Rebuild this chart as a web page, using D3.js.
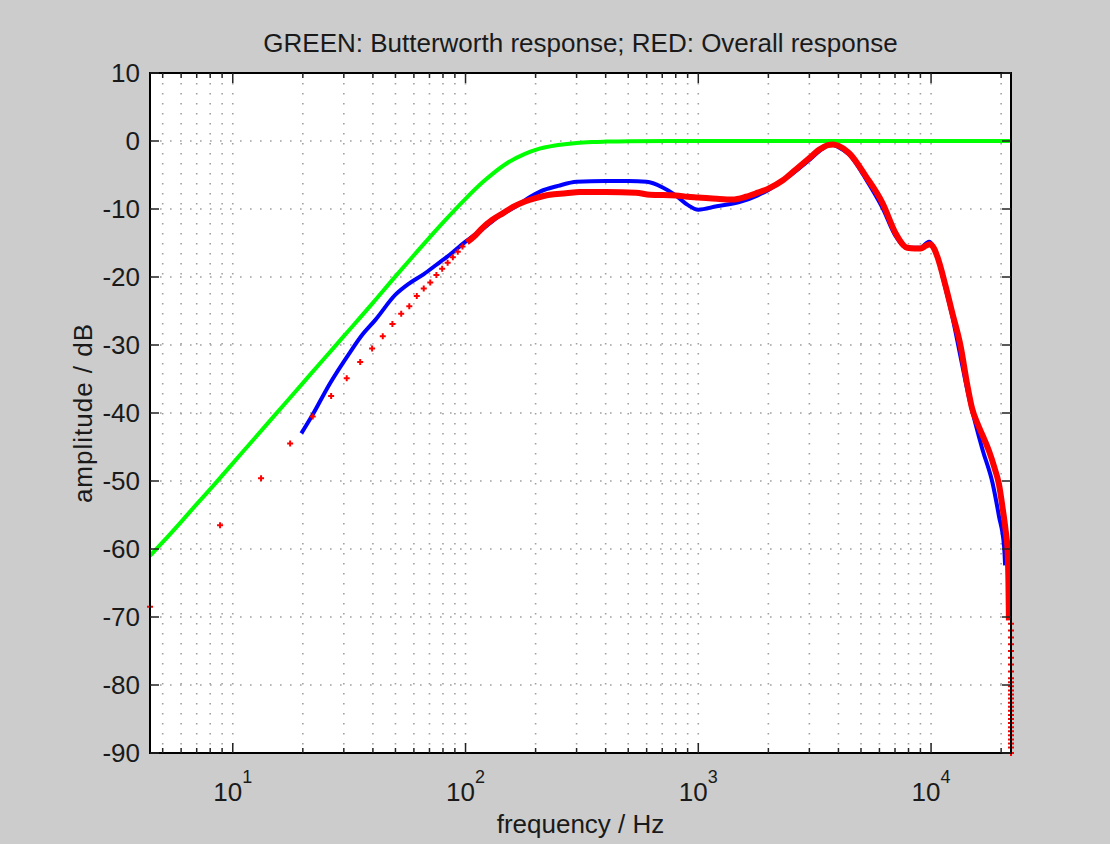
<!DOCTYPE html>
<html>
<head>
<meta charset="utf-8">
<script src="https://cdn.jsdelivr.net/npm/d3@7"></script>
<style>
body { margin: 0; background: #cccccc; }
svg { display: block; }
text { font-family: "Liberation Sans", Arial, sans-serif; fill: #1a1a1a; }
</style>
</head>
<body>
<div id="chart"></div>
<script>
var W = 1110, H = 844;
var plotL = 150, plotR = 1011, plotT = 73, plotB = 753;

// x limits (Hz) and y limits (dB)
var xLim = [4.41, 22050];
var yLim = [-90, 10];
var xTickExps = [1, 2, 3, 4];
var yTicks = [10, 0, -10, -20, -30, -40, -50, -60, -70, -80, -90];

// GREEN: Butterworth response
var greenF  = [4.41, 5, 6, 7, 8, 10, 12, 15, 20, 25, 30, 40, 50, 60, 70, 80, 100, 120, 150, 180, 200, 250, 300, 350, 400, 500, 1000, 22050];
var greenDb = [-61.0, -59.0, -56.0, -53.4, -51.2, -47.4, -44.3, -40.5, -35.6, -31.8, -28.7, -23.8, -19.9, -16.8, -14.2, -12.0, -8.5, -5.9, -3.3, -1.9, -1.3, -0.6, -0.28, -0.15, -0.09, -0.03, 0, 0];

// blue curve
var blueF  = [19.7, 22, 26, 32, 36, 41, 50, 57, 66, 75, 85, 100, 118, 140, 165, 190, 210, 250, 300, 400, 500, 600, 700, 800, 900, 1000, 1200, 1500, 1800, 2000, 2500, 3000, 3400, 3700, 4000, 4450, 5250, 6200, 7050, 7900, 9000, 9800, 10640, 11560, 12340, 13400, 14500, 15500, 16640, 18370, 19580, 20600, 20800];
var blueDb = [-43.0, -40.3, -35.8, -31.0, -28.5, -26.3, -22.6, -21.0, -19.6, -18.2, -16.8, -14.8, -13.0, -11.0, -9.6, -8.2, -7.4, -6.6, -6.0, -5.9, -5.9, -6.0, -6.8, -8.0, -9.4, -10.1, -9.6, -9.0, -8.0, -7.2, -5.0, -2.8, -1.2, -0.5, -0.9, -2.0, -5.6, -9.9, -14.0, -15.7, -15.7, -14.8, -17.0, -21.8, -25.8, -31.8, -37.5, -41.5, -45.4, -50.3, -55.2, -59.7, -62.4];

// RED: Overall response, low-frequency bins drawn as markers
var redDotF  = [4.41, 8.82, 13.23, 17.64, 22.05, 26.46, 30.87, 35.28, 39.69, 44.1, 48.51, 52.92, 57.33, 61.74, 66.15, 70.56, 74.97, 79.38, 83.79, 88.2, 92.61, 97.02];
var redDotDb = [-68.5, -56.5, -49.6, -44.5, -40.5, -37.5, -34.9, -32.5, -30.5, -28.7, -26.9, -25.4, -24.3, -22.8, -21.7, -20.8, -19.7, -18.8, -17.9, -17.1, -16.3, -15.5];

// RED: dense part drawn as a thick line
var redF  = [101.4, 110, 118, 130, 145, 160, 180, 200, 230, 270, 310, 400, 540, 620, 800, 900, 1000, 1200, 1400, 1600, 1800, 2000, 2300, 2600, 3000, 3300, 3600, 3800, 4000, 4450, 5250, 6200, 7050, 7600, 7900, 8500, 9020, 9500, 9900, 10300, 10640, 11560, 12340, 13400, 14300, 15000, 15800, 16800, 17740, 18700, 19580, 20300, 20900, 21300, 21500, 21600];
var redDb = [-14.9, -13.9, -12.8, -11.6, -10.6, -9.7, -8.9, -8.4, -7.9, -7.7, -7.5, -7.5, -7.6, -7.9, -8.0, -8.2, -8.3, -8.5, -8.6, -8.2, -7.6, -7.0, -5.8, -4.3, -2.5, -1.3, -0.6, -0.5, -0.7, -1.8, -5.2, -9.2, -13.6, -15.3, -15.7, -15.8, -15.8, -15.4, -15.2, -15.8, -17.0, -21.4, -25.3, -30.2, -35.8, -39.3, -41.5, -43.6, -45.6, -48.0, -50.5, -54.0, -57.2, -60.0, -65.0, -70.5];

// RED: last bins at the Nyquist edge
var redTailF = 22050;
var redTailDb = [-71, -72, -73, -74, -75, -76, -77, -78, -79, -79.6, -80.2, -80.8, -81.4, -82, -82.6, -83.2, -83.8, -84.4, -85, -85.6, -86.2, -86.8, -87.4, -88, -88.6, -89.2, -90];

var x = d3.scaleLog().domain(xLim).range([plotL, plotR]);
var y = d3.scaleLinear().domain(yLim).range([plotB, plotT]);

var svg = d3.select("#chart").append("svg")
  .attr("width", W)
  .attr("height", H);

svg.append("rect").attr("width", W).attr("height", H).attr("fill", "#cccccc");
svg.append("rect")
  .attr("x", plotL).attr("y", plotT)
  .attr("width", plotR - plotL).attr("height", plotB - plotT)
  .attr("fill", "#ffffff");

// grid positions: every 1..9 x 10^d inside the limits
var xMinor = [];
for (var d = 0; d <= 4; d++) {
  for (var m = 1; m <= 9; m++) {
    var v = m * Math.pow(10, d);
    if (v > xLim[0] && v < xLim[1]) xMinor.push({v: v, major: m == 1});
  }
}

var grid = svg.append("g").attr("stroke", "#a0a0a0").attr("stroke-width", 1.6).attr("stroke-dasharray", "1.6,8.4");
grid.selectAll(".vg").data(xMinor).enter().append("line")
  .attr("x1", d => x(d.v)).attr("x2", d => x(d.v))
  .attr("y1", plotT).attr("y2", plotB);
grid.selectAll(".hg").data(yTicks.slice(1, -1)).enter().append("line")
  .attr("x1", plotL).attr("x2", plotR)
  .attr("y1", d => y(d)).attr("y2", d => y(d));

var line = d3.line()
  .x(d => x(d[0]))
  .y(d => y(d[1]))
  .curve(d3.curveMonotoneX);

svg.append("path")
  .datum(d3.zip(greenF, greenDb))
  .attr("d", line)
  .attr("fill", "none")
  .attr("stroke", "#00ff00")
  .attr("stroke-width", 4);

svg.append("path")
  .datum(d3.zip(blueF, blueDb))
  .attr("d", line)
  .attr("fill", "none")
  .attr("stroke", "#0000ff")
  .attr("stroke-width", 4);

svg.append("path")
  .datum(d3.zip(redF, redDb))
  .attr("d", line)
  .attr("fill", "none")
  .attr("stroke", "#ff0000")
  .attr("stroke-width", 6)
  .attr("stroke-linejoin", "round");

var plus = "M-3,0H3M0,-3V3";
svg.selectAll(".rdot").data(d3.zip(redDotF, redDotDb)).enter().append("path")
  .attr("transform", d => "translate(" + x(d[0]) + "," + y(d[1]) + ")")
  .attr("d", plus)
  .attr("stroke", "#ff0000")
  .attr("stroke-width", 2);

svg.selectAll(".rtail").data(redTailDb).enter().append("path")
  .attr("transform", d => "translate(" + x(redTailF) + "," + y(d) + ")")
  .attr("d", plus)
  .attr("stroke", "#ff0000")
  .attr("stroke-width", 2);

// frame
svg.append("rect")
  .attr("x", plotL).attr("y", plotT)
  .attr("width", plotR - plotL).attr("height", plotB - plotT)
  .attr("fill", "none")
  .attr("stroke", "#000")
  .attr("stroke-width", 2);

// ticks, inside the box
var ticks = svg.append("g").attr("stroke", "#222").attr("stroke-width", 1.5);
xMinor.forEach(function (t) {
  var len = t.major ? 10 : 5;
  ticks.append("line").attr("x1", x(t.v)).attr("x2", x(t.v)).attr("y1", plotB).attr("y2", plotB - len);
  ticks.append("line").attr("x1", x(t.v)).attr("x2", x(t.v)).attr("y1", plotT).attr("y2", plotT + len);
});
yTicks.forEach(function (t) {
  ticks.append("line").attr("x1", plotL).attr("x2", plotL + 9).attr("y1", y(t)).attr("y2", y(t));
  ticks.append("line").attr("x1", plotR).attr("x2", plotR - 9).attr("y1", y(t)).attr("y2", y(t));
});

// y tick labels
svg.selectAll(".yl").data(yTicks).enter().append("text")
  .attr("x", plotL - 10)
  .attr("y", d => y(d))
  .attr("dy", "0.36em")
  .attr("text-anchor", "end")
  .attr("font-size", 26)
  .text(d => d);

// x tick labels 10^n
xTickExps.forEach(function (e) {
  var t = svg.append("text")
    .attr("x", x(Math.pow(10, e)))
    .attr("y", 801)
    .attr("text-anchor", "middle")
    .attr("font-size", 26);
  t.append("tspan").text("10");
  t.append("tspan").attr("dy", -18).attr("font-size", 18).text(e);
});

svg.append("text")
  .attr("x", (plotL + plotR) / 2)
  .attr("y", 833)
  .attr("text-anchor", "middle")
  .attr("font-size", 26)
  .text("frequency / Hz");

svg.append("text")
  .attr("transform", "translate(92," + (plotT + plotB) / 2 + ") rotate(-90)")
  .attr("text-anchor", "middle")
  .attr("font-size", 26)
  .attr("letter-spacing", 1)
  .text("amplitude / dB");

svg.append("text")
  .attr("x", (plotL + plotR) / 2)
  .attr("y", 52)
  .attr("text-anchor", "middle")
  .attr("font-size", 26)
  .text("GREEN: Butterworth response; RED: Overall response");
</script>
</body>
</html>
